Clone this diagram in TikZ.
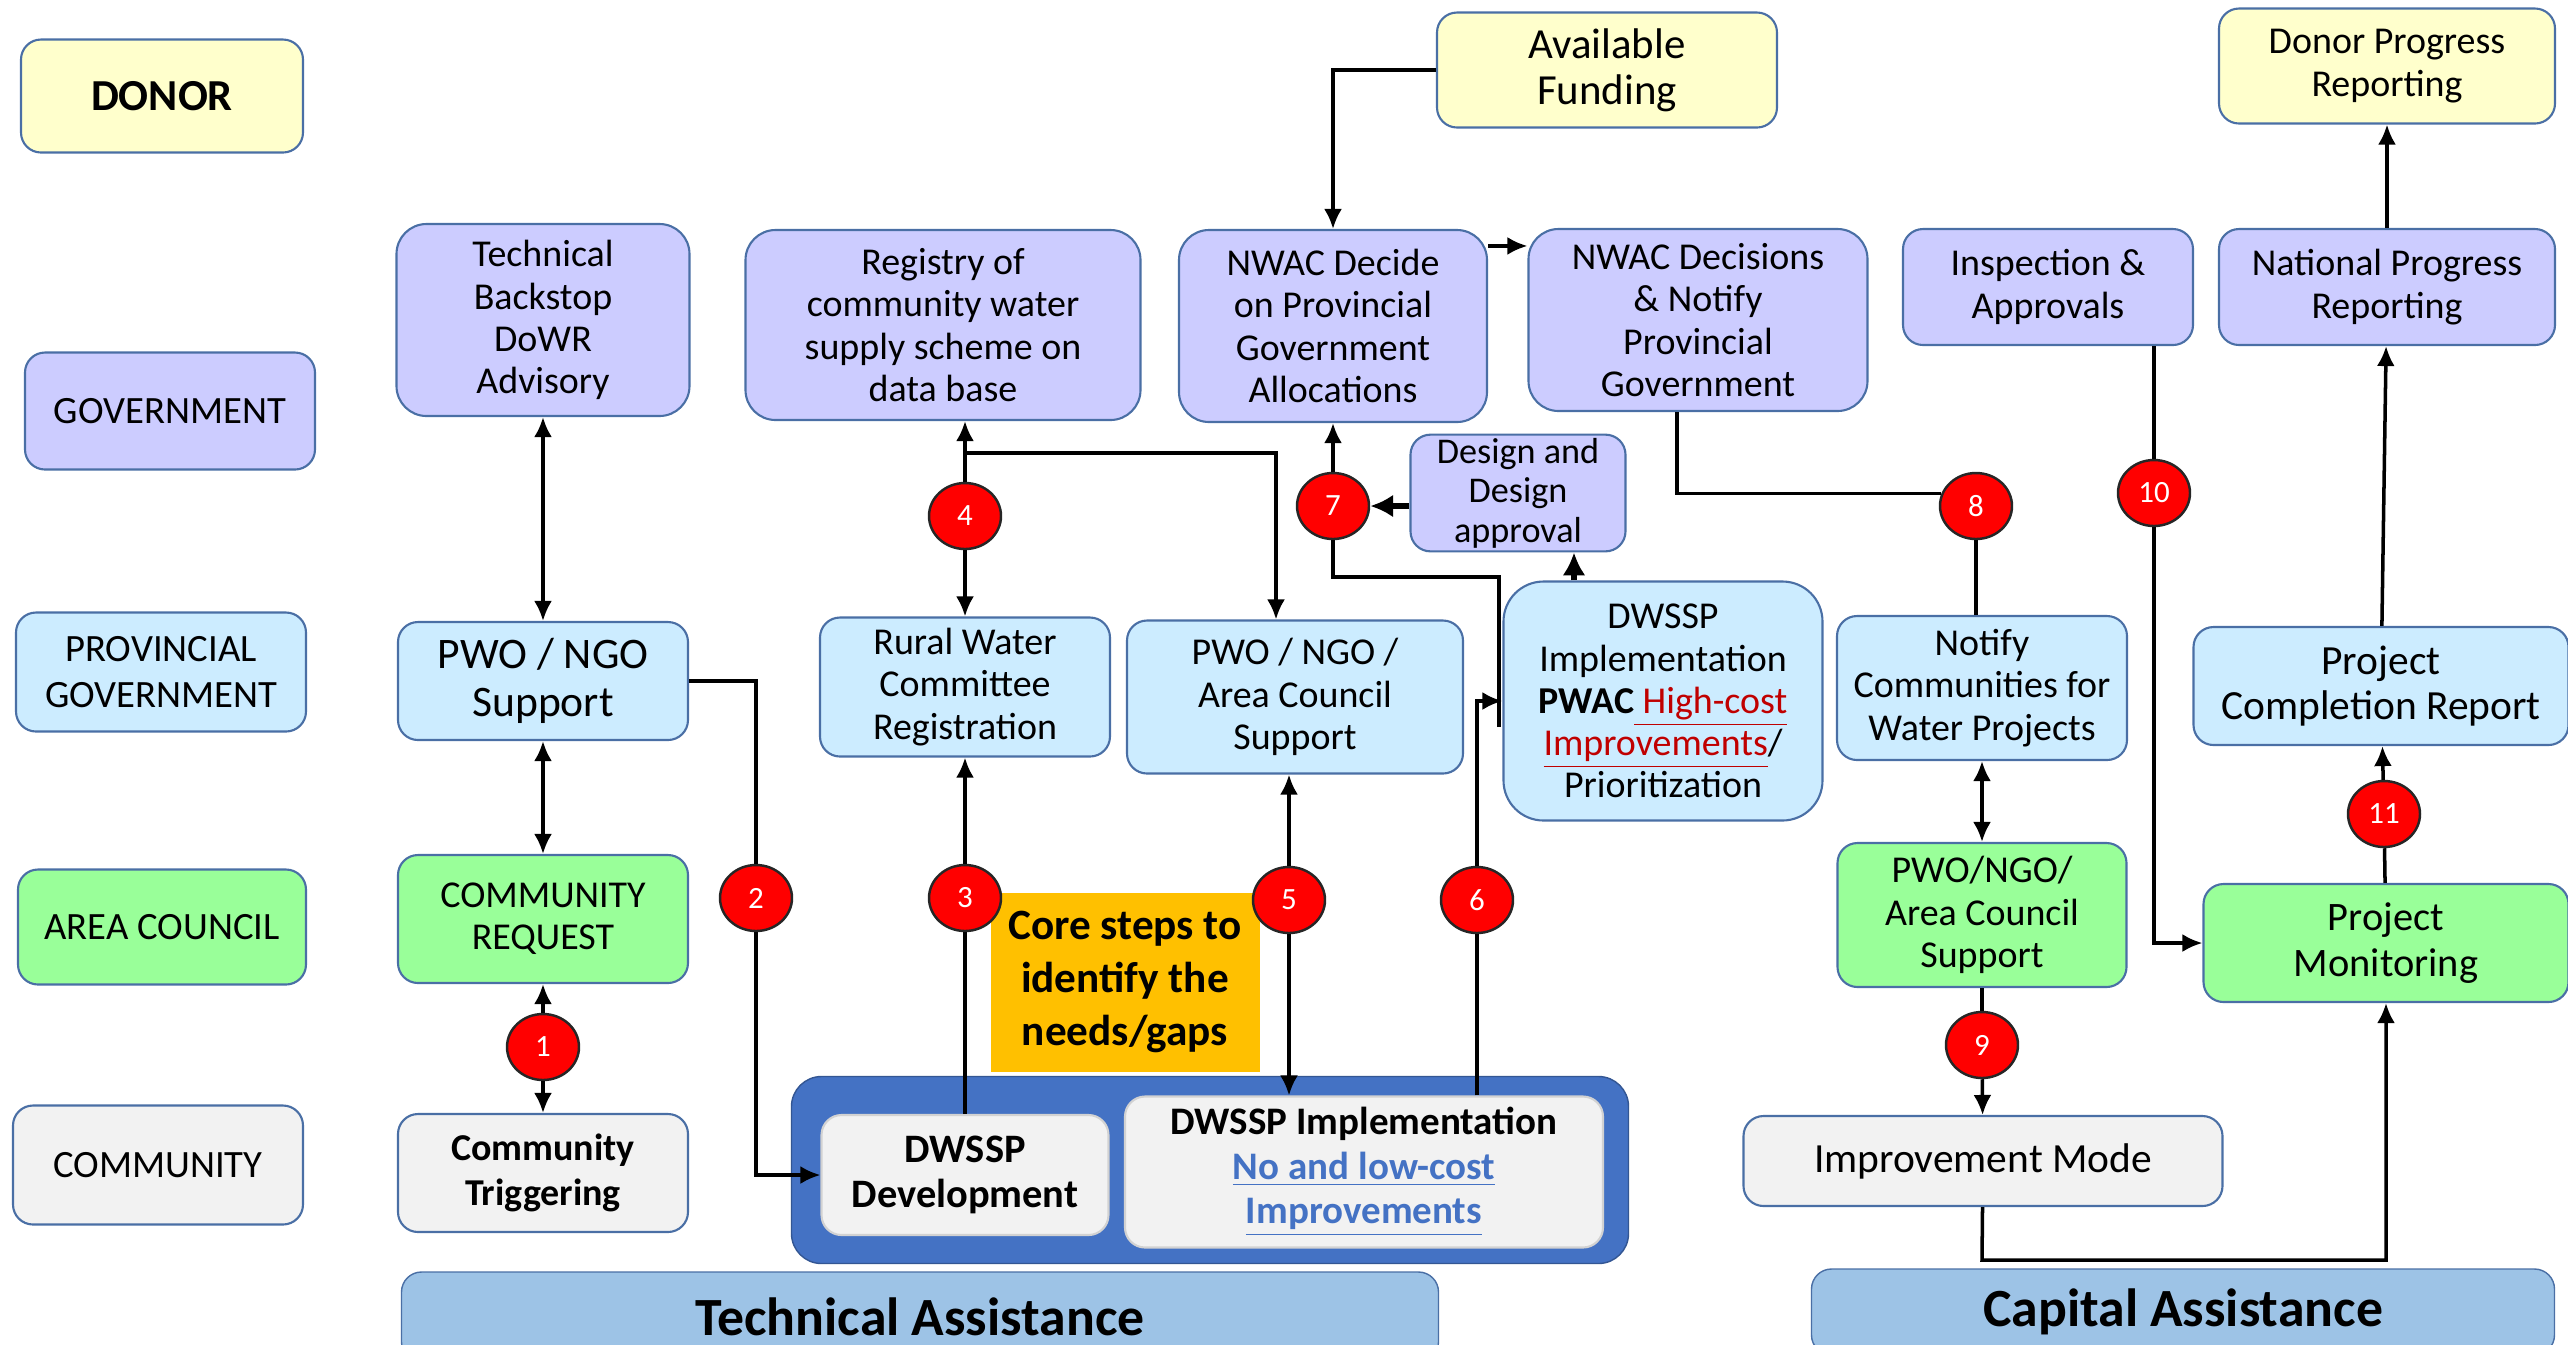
\documentclass[tikz,border=0pt]{standalone}
\usepackage{fontspec}
\setmainfont{Carlito}
\usetikzlibrary{arrows.meta,shapes.geometric}

\definecolor{donorfill}{HTML}{FFFFCC}
\definecolor{govfill}{HTML}{CCCCFF}
\definecolor{provfill}{HTML}{CCECFF}
\definecolor{areafill}{HTML}{99FF99}
\definecolor{commfill}{HTML}{F2F2F2}
\definecolor{boxline}{HTML}{4A6FA5}
\definecolor{corefill}{HTML}{FFC000}
\definecolor{platefill}{HTML}{4472C4}
\definecolor{barfill}{HTML}{9DC3E6}
\definecolor{hired}{HTML}{C00000}
\definecolor{lowblue}{HTML}{4472C4}

\tikzset{
    box/.style={draw=boxline, line width=0.6pt, rounded corners=0.2cm, align=center,
        inner sep=1pt, font=\fontsize{10.8}{12}\selectfont},
    wh/.style 2 args={minimum width=#1cm, minimum height=#2cm},
    donor/.style={box, fill=donorfill},
    govt/.style={box, fill=govfill},
    prov/.style={box, fill=provfill},
    area/.style={box, fill=areafill},
    comm/.style={box, fill=commfill},
    lane/.style={font=\fontsize{11}{13}\selectfont},
    badge/.style={ellipse, draw=black!85, line width=0.7pt, fill=red, text=white,
        minimum width=0.72cm, minimum height=0.66cm, inner sep=0pt,
        font=\fontsize{8.8}{10}\selectfont},
    link/.style={line width=1pt, >={Latex[length=2mm,width=1.8mm]}},
    heavy/.style={line width=1.6pt, >={Latex[length=2.3mm,width=2.3mm]}},
    bar/.style={draw=boxline, fill=barfill, rounded corners=0.2cm,
        font=\bfseries\fontsize{15.3}{18}\selectfont}
}

\begin{document}
\begin{tikzpicture}
    \useasboundingbox (0,0) rectangle (25.68,-13.44);

    % Row labels
    \node[donor, wh={2.82}{1.13}, font=\bfseries\fontsize{12.6}{15}\selectfont] (donorlbl) at (1.62,-0.96) {DONOR};
    \node[govt, lane, wh={2.90}{1.17}] (govlbl) at (1.70,-4.11) {GOVERNMENT};
    \node[prov, lane, wh={2.90}{1.19}] (provlbl) at (1.61,-6.72) {PROVINCIAL\\GOVERNMENT};
    \node[area, lane, wh={2.88}{1.15}] (arealbl) at (1.62,-9.27) {AREA COUNCIL};
    \node[comm, lane, wh={2.90}{1.19}] (commlbl) at (1.58,-11.65) {COMMUNITY};

    % Community column
    \node[govt, wh={2.93}{1.92}, rounded corners=0.3cm] (backstop) at (5.43,-3.20) {Technical\\Backstop\\DoWR\\Advisory};
    \node[prov, wh={2.90}{1.18}, font=\fontsize{12.4}{13.6}\selectfont] (pwo) at (5.43,-6.81) {PWO / NGO\\Support};
    \node[area, wh={2.90}{1.28}] (request) at (5.43,-9.19) {COMMUNITY\\REQUEST};
    \node[comm, wh={2.90}{1.18}, font=\bfseries\fontsize{10.8}{12.6}\selectfont] (trigger) at (5.43,-11.73) {Community\\Triggering};

    % Registration column
    \node[govt, wh={3.95}{1.90}, rounded corners=0.3cm] (registry) at (9.43,-3.25) {Registry of\\community water\\supply scheme on\\data base};
    \node[prov, wh={2.90}{1.39}] (rural) at (9.65,-6.87) {Rural Water\\Committee\\Registration};
    \node[fill=corefill, align=center, wh={2.69}{1.79}, font=\bfseries\fontsize{12.3}{15}\selectfont] (core) at (11.25,-9.82) {Core steps to\\identify the\\needs/gaps};

    % DWSSP plate
    \node[fill=platefill, draw=platefill!75!black, rounded corners=0.3cm, wh={8.37}{1.87}] (plate) at (12.10,-11.70) {};
    \node[comm, draw=gray!35, wh={2.87}{1.20}, font=\bfseries\fontsize{11.5}{12.6}\selectfont] (dev) at (9.65,-11.75) {DWSSP\\Development};
    \node[comm, draw=gray!35, wh={4.78}{1.51}, font=\bfseries\fontsize{11.1}{12.6}\selectfont] (impl) at (13.64,-11.72) {DWSSP Implementation\\{\color{lowblue}\underline{No and low-cost}}\\{\color{lowblue}\underline{Improvements}}};

    % Allocation column
    \node[govt, wh={3.08}{1.92}, rounded corners=0.3cm] (nwac) at (13.33,-3.26) {NWAC Decide\\on Provincial\\Government\\Allocations};
    \node[prov, wh={3.36}{1.53}] (acs) at (12.95,-6.97) {PWO / NGO /\\Area Council\\Support};
    \node[govt, wh={2.15}{1.15}, font=\fontsize{10.3}{11.2}\selectfont] (design) at (15.18,-4.93) {Design and\\Design\\approval};
    \node[donor, wh={3.40}{1.15}, font=\fontsize{12.2}{13.2}\selectfont] (funding) at (16.07,-0.70) {Available\\Funding};
    \node[govt, wh={3.39}{1.82}, rounded corners=0.3cm] (decisions) at (16.98,-3.20) {NWAC Decisions\\\& Notify\\Provincial\\Government};
    \node[prov, wh={3.19}{2.39}, rounded corners=0.4cm] (pwac) at (16.63,-7.01) {DWSSP\\Implementation\\\textbf{PWAC}{\color{hired}\underline{\ High-cost}}\\{\color{hired}\underline{Improvements}}/\\Prioritization};

    % Capital assistance side
    \node[govt, wh={2.90}{1.16}] (inspect) at (20.48,-2.87) {Inspection \&\\Approvals};
    \node[donor, wh={3.36}{1.15}] (donorrep) at (23.87,-0.66) {Donor Progress\\Reporting};
    \node[govt, wh={3.36}{1.16}] (national) at (23.87,-2.87) {National Progress\\Reporting};
    \node[prov, wh={2.90}{1.44}] (notify) at (19.82,-6.88) {Notify\\Communities for\\Water Projects};
    \node[prov, wh={3.75}{1.18}, font=\fontsize{11.8}{12.6}\selectfont] (completion) at (23.81,-6.86) {Project\\Completion Report};
    \node[area, wh={2.89}{1.44}] (gsupport) at (19.82,-9.15) {PWO/NGO/\\Area Council\\Support};
    \node[area, wh={3.65}{1.18}, font=\fontsize{11.5}{13}\selectfont] (monitor) at (23.86,-9.43) {Project\\Monitoring};
    \node[comm, wh={4.79}{0.90}, font=\fontsize{11.8}{13}\selectfont] (improve) at (19.83,-11.61) {Improvement Mode};

    % Bottom bars
    \node[bar, wh={10.37}{0.90}] (techbar) at (9.20,-13.17) {Technical Assistance};
    \node[bar, wh={7.43}{0.86}] (capbar) at (21.83,-13.12) {Capital Assistance};

    % Step badges
    \node[badge] (b1) at (5.43,-10.47) {1};
    \node[badge] (b2) at (7.56,-8.98) {2};
    \node[badge] (b3) at (9.65,-8.98) {3};
    \node[badge] (b4) at (9.65,-5.16) {4};
    \node[badge] (b5) at (12.89,-9.00) {5};
    \node[badge] (b6) at (14.77,-9.00) {6};
    \node[badge] (b7) at (13.33,-5.06) {7};
    \node[badge] (b8) at (19.76,-5.06) {8};
    \node[badge] (b9) at (19.82,-10.45) {9};
    \node[badge] (b10) at (21.54,-4.93) {10};
    \node[badge] (b11) at (23.84,-8.14) {11};

    % Free ends of connectors
    \coordinate (split) at (9.65,-4.53);
    \coordinate (tap7) at (14.99,-7.27);
    \coordinate (bend7) at (14.99,-5.77);
    \coordinate (low) at (19.82,-12.60);

    % Technical assistance arrows
    \draw[link, <->] (backstop) -- (pwo);
    \draw[link, <->] (pwo) -- (request);
    \draw[link, ->] (b1) -- (request);
    \draw[link, ->] (b1) -- (trigger);
    \draw[link] (pwo.east) -| (b2);
    \draw[link, ->] (b2) |- (dev);
    \draw[link] (dev) -- (b3);
    \draw[link, ->] (b3) -- (rural);
    \draw[link, ->] (b4) -- (b4 |- registry.south);
    \draw[link, ->] (b4) -- (rural);
    \draw[link, ->] (split) -| ([xshift=-0.19cm]acs.north);
    \draw[link, ->] (b5) -- (b5 |- acs.south);
    \draw[link, ->] (b5) -- (b5 |- impl.north);
    \draw[link] (b6 |- impl.north) -- (b6);
    \draw[link, ->] (b6) |- (pwac);
    \draw[link] (tap7) -- (bend7) -| (b7);
    \draw[link, ->] (b7) -- (nwac);
    \draw[heavy, ->] (b7 -| design.west) -- (b7);
    \draw[heavy, ->] ([xshift=-0.89cm]pwac.north) -- ([xshift=-0.89cm]pwac.north |- design.south);
    \draw[link, ->] (funding) -| (nwac);
    \draw[link, ->] ([yshift=-0.17cm]nwac.north east) -- ([yshift=-0.17cm]nwac.north east -| decisions.west);

    % Capital assistance arrows
    \draw[link] ([xshift=-0.21cm]decisions.south) |- (b8.160);
    \draw[link] (b8) -- (b8 |- notify.north);
    \draw[link, <->] (notify) -- (gsupport);
    \draw[link] (gsupport) -- (b9);
    \draw[link, ->] (b9) -- (improve);
    \draw[link, ->] (improve) -- (low) -| (monitor);
    \draw[link] (inspect.south -| b10) -- (b10);
    \draw[link, ->] (b10) |- (monitor);
    \draw[link] (monitor) -- (b11);
    \draw[link, ->] (b11) -- (completion);
    \draw[link, ->] (completion) -- (national);
    \draw[link, ->] (national) -- (donorrep);
\end{tikzpicture}
\end{document}
